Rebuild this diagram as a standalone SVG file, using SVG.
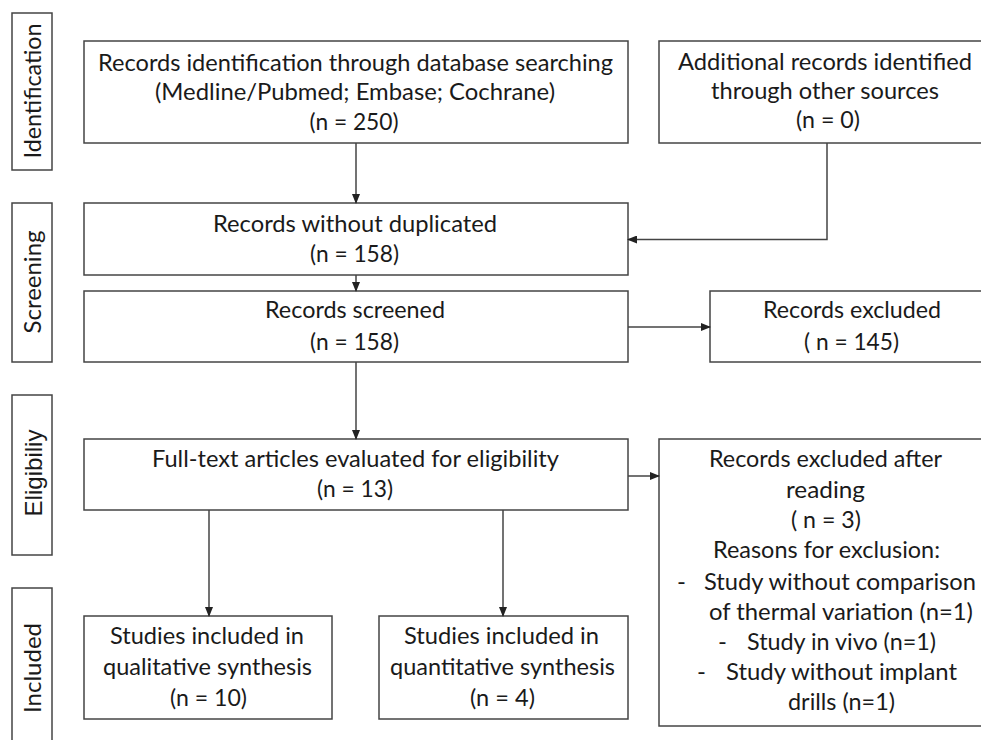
<svg xmlns="http://www.w3.org/2000/svg" width="981" height="740" viewBox="0 0 981 740">
<style>
.box{fill:#fff;stroke:#444;stroke-width:1.5}
.t{font-family:Lato,"Open Sans",sans-serif;font-size:24px;fill:#1a1a1a;text-anchor:middle}
.ta{font-family:"Liberation Sans",Arial,sans-serif;font-size:24px;fill:#1a1a1a;text-anchor:middle}
.s{font-family:Lato,"Open Sans",sans-serif;font-size:24px;fill:#1a1a1a}
.c{fill:none;stroke:#444;stroke-width:1.5}
</style>
<defs>
<marker id="ah" markerWidth="10" markerHeight="8" refX="9" refY="4" orient="auto" markerUnits="userSpaceOnUse">
<path d="M0,0 L10,4 L0,8 Z" fill="#222"/>
</marker>
</defs>
<rect width="981" height="740" fill="#fff"/>

<g id="label-identification">
<rect class="box" x="12" y="13" width="40" height="157"/>
<text class="t" transform="translate(41,91) rotate(-90)" textLength="135" lengthAdjust="spacingAndGlyphs">Identification</text>
</g>
<g id="label-screening">
<rect class="box" x="12" y="203" width="40" height="159"/>
<text class="t" transform="translate(41,282) rotate(-90)" textLength="103" lengthAdjust="spacingAndGlyphs">Screening</text>
</g>
<g id="label-eligibility">
<rect class="box" x="12" y="395" width="40" height="160"/>
<text class="ta" transform="translate(42,473) rotate(-90)" textLength="87" lengthAdjust="spacingAndGlyphs">Eligibiliy</text>
</g>
<g id="label-included">
<rect class="box" x="12" y="588" width="40" height="160"/>
<text class="t" transform="translate(41,668) rotate(-90)" textLength="90" lengthAdjust="spacingAndGlyphs">Included</text>
</g>

<g id="node-database">
<rect class="box" x="84" y="41" width="544" height="102"/>
<text class="t" x="355.5" y="71" textLength="515" lengthAdjust="spacingAndGlyphs">Records identification through database searching</text>
<text class="t" x="355" y="100" textLength="400" lengthAdjust="spacingAndGlyphs">(Medline/Pubmed; Embase; Cochrane)</text>
<text class="t" x="354" y="130" textLength="89" lengthAdjust="spacingAndGlyphs">(n = 250)</text>
</g>
<g id="node-additional">
<rect class="box" x="659" y="41" width="330" height="102"/>
<text class="t" x="825" y="70" textLength="294" lengthAdjust="spacingAndGlyphs">Additional records identified</text>
<text class="t" x="825" y="99" textLength="228" lengthAdjust="spacingAndGlyphs">through other sources</text>
<text class="t" x="828" y="128" textLength="64" lengthAdjust="spacingAndGlyphs">(n = 0)</text>
</g>
<g id="node-noduplicates">
<rect class="box" x="84" y="203" width="544" height="72"/>
<text class="t" x="355" y="232" textLength="284" lengthAdjust="spacingAndGlyphs">Records without duplicated</text>
<text class="t" x="354.5" y="262" textLength="89" lengthAdjust="spacingAndGlyphs">(n = 158)</text>
</g>
<g id="node-screened">
<rect class="box" x="84" y="291" width="544" height="71"/>
<text class="t" x="355" y="318" textLength="180" lengthAdjust="spacingAndGlyphs">Records screened</text>
<text class="t" x="354.5" y="350" textLength="89" lengthAdjust="spacingAndGlyphs">(n = 158)</text>
</g>
<g id="node-excluded">
<rect class="box" x="710" y="291" width="280" height="71"/>
<text class="t" x="852" y="318" textLength="178" lengthAdjust="spacingAndGlyphs">Records excluded</text>
<text class="t" x="851.5" y="350" textLength="95" lengthAdjust="spacingAndGlyphs">( n = 145)</text>
</g>
<g id="node-fulltext">
<rect class="box" x="84" y="439" width="544" height="71"/>
<text class="t" x="355.5" y="467" textLength="407" lengthAdjust="spacingAndGlyphs">Full-text articles evaluated for eligibility</text>
<text class="t" x="355" y="497" textLength="76" lengthAdjust="spacingAndGlyphs">(n = 13)</text>
</g>
<g id="node-excluded-reading">
<rect class="box" x="659" y="439" width="330" height="287"/>
<text class="t" x="825.5" y="467" textLength="233" lengthAdjust="spacingAndGlyphs">Records excluded after</text>
<text class="t" x="825.5" y="498" textLength="79" lengthAdjust="spacingAndGlyphs">reading</text>
<text class="t" x="826" y="528" textLength="70" lengthAdjust="spacingAndGlyphs">( n = 3)</text>
<text class="t" x="826.5" y="558" textLength="227" lengthAdjust="spacingAndGlyphs">Reasons for exclusion:</text>
<text class="s" x="677" y="590">-</text>
<text class="s" x="704" y="590" textLength="272" lengthAdjust="spacingAndGlyphs">Study without comparison</text>
<text class="s" x="709" y="620" textLength="264" lengthAdjust="spacingAndGlyphs">of thermal variation (n=1)</text>
<text class="s" x="718" y="650">-</text>
<text class="s" x="747" y="650" textLength="189" lengthAdjust="spacingAndGlyphs">Study in vivo (n=1)</text>
<text class="s" x="697" y="680">-</text>
<text class="s" x="726" y="680" textLength="231" lengthAdjust="spacingAndGlyphs">Study without implant</text>
<text class="s" x="788" y="710" textLength="107" lengthAdjust="spacingAndGlyphs">drills (n=1)</text>
</g>
<g id="node-qualitative">
<rect class="box" x="84" y="616" width="248" height="103"/>
<text class="t" x="207" y="644" textLength="194" lengthAdjust="spacingAndGlyphs">Studies included in</text>
<text class="t" x="207.5" y="675" textLength="209" lengthAdjust="spacingAndGlyphs">qualitative synthesis</text>
<text class="t" x="208.5" y="706" textLength="77" lengthAdjust="spacingAndGlyphs">(n = 10)</text>
</g>
<g id="node-quantitative">
<rect class="box" x="379" y="616" width="249" height="103"/>
<text class="t" x="501.5" y="644" textLength="195" lengthAdjust="spacingAndGlyphs">Studies included in</text>
<text class="t" x="502.5" y="675" textLength="225" lengthAdjust="spacingAndGlyphs">quantitative synthesis</text>
<text class="t" x="502.5" y="706" textLength="65" lengthAdjust="spacingAndGlyphs">(n = 4)</text>
</g>

<g id="connectors">
<path class="c" d="M356,143 V203" marker-end="url(#ah)"/>
<path class="c" d="M827,143 V239.5 H628" marker-end="url(#ah)"/>
<path class="c" d="M356,275 V291" marker-end="url(#ah)"/>
<path class="c" d="M628,327 H710" marker-end="url(#ah)"/>
<path class="c" d="M356,362 V439" marker-end="url(#ah)"/>
<path class="c" d="M628,476 H659" marker-end="url(#ah)"/>
<path class="c" d="M209,510 V616" marker-end="url(#ah)"/>
<path class="c" d="M503,510 V616" marker-end="url(#ah)"/>
</g>
</svg>
